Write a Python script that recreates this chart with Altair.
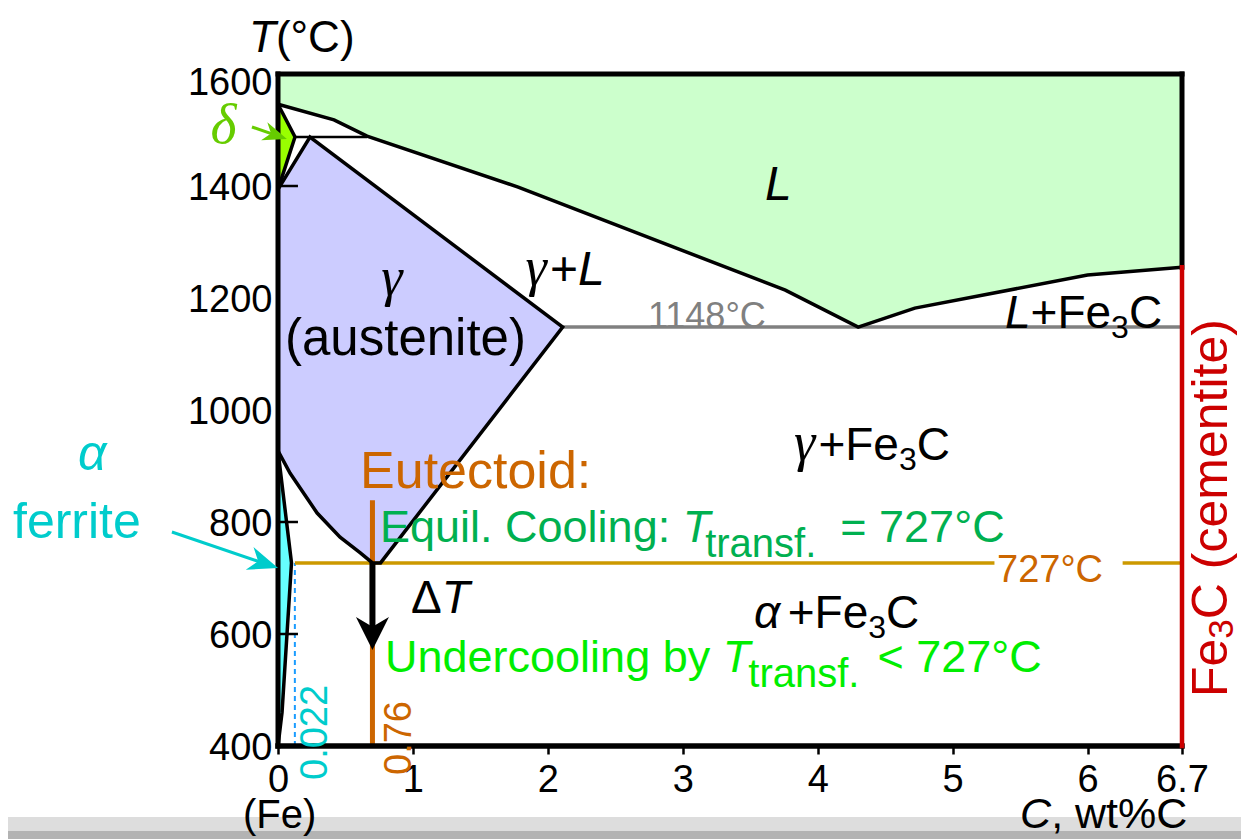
import altair as alt
import pandas as pd

FONT = "Liberation Sans, Arial, Helvetica, sans-serif"
SERIF = "Liberation Serif, Times New Roman, serif"

# ---------------- data ----------------
x_tick_values = [0, 1, 2, 3, 4, 5, 6, 6.7]
y_tick_values = [400, 600, 800, 1000, 1200, 1400, 1600]
y_inner_ticks = [600, 800, 1400]
C_range = [0, 6.7]
T_range = [400, 1600]

# liquidus (boundary of the L field)
liq_C = [0.0, 0.415, 0.66, 1.78, 3.76, 4.30, 4.72, 6.0, 6.7]
liq_T = [1546, 1518, 1489, 1398, 1214, 1148, 1182, 1241, 1255]

# austenite (gamma) field
gam_left_C = [0.70, 0.61, 0.46, 0.29, 0.09, 0.0, 0.0, 0.237]
gam_left_T = [727, 745, 773, 816, 887, 927, 1394, 1487.5]
gam_right_C = [0.76, 2.11, 0.237]
gam_right_T = [727, 1148, 1487.5]

# delta ferrite field
del_C = [0.0, 0.126, 0.0]
del_T = [1394, 1487.5, 1546]

# alpha ferrite field (drawn exaggerated)
alp_C = [0.0, 0.03, 0.10, 0.0]
alp_T = [400, 460, 727, 927]

peritectic_T = 1487.5
peritectic_C = [0.126, 0.66]
eutectic_T = 1148
eutectic_C = [2.11, 6.7]
eutectoid_T = 727
eutectoid_segments = [(0.125, 5.31), (6.26, 6.7)]
eutectoid_C = 0.70          # drawn position of the 0.76 composition line
eutectoid_line_top = 839
alpha_max_C = 0.125         # drawn position of the 0.022 line
cementite_C = 6.7
cementite_top_T = 1255

PXC = 904 / 6.7      # px per wt%
PXT = 672 / 1200     # px per degC

XS = alt.Scale(domain=C_range, nice=False, zero=False)
YS = alt.Scale(domain=T_range, nice=False, zero=False)
XAX = alt.Axis(values=x_tick_values, title=None, domain=False, grid=False,
               labelExpr="datum.value > 6.5 ? '6.7' : format(datum.value, 'd')",
               ticks=True, tickSize=8, tickWidth=2.5, tickColor="black",
               labelFont=FONT, labelFontSize=38, labelColor="black",
               labelPadding=7, labelFlush=False, labelOverlap=False)
YAX = alt.Axis(values=y_tick_values, title=None, domain=False, grid=False, format="d",
               ticks=False, tickSize=0, labelFont=FONT, labelFontSize=38,
               labelColor="black", labelPadding=6, labelFlush=False,
               labelOverlap=False,
               labelOffset={"condition": {"test": "datum.value == 1600", "value": 9}, "value": 2})


def X(f):
    return alt.X(f, type="quantitative", scale=XS, axis=XAX, title=None)


def Y(f):
    return alt.Y(f, type="quantitative", scale=YS, axis=YAX, title=None)


def interp(ts, cs, t):
    for i in range(len(ts) - 1):
        if ts[i] <= t <= ts[i + 1]:
            if ts[i + 1] == ts[i]:
                return cs[i + 1]
            f = (t - ts[i]) / (ts[i + 1] - ts[i])
            return cs[i] + f * (cs[i + 1] - cs[i])
    return cs[-1]


def hband(lt, lc, rt, rc):
    ts = sorted(set(lt) | set(rt))
    return pd.DataFrame({"T": ts,
                         "xl": [interp(lt, lc, t) for t in ts],
                         "xr": [interp(rt, rc, t) for t in ts]})


L_df = pd.DataFrame({"C": liq_C, "T": liq_T, "top": [T_range[1]] * len(liq_C)})
gam_df = hband(gam_left_T, gam_left_C, gam_right_T, gam_right_C)
del_df = hband([del_T[0], del_T[-1]], [0, 0], del_T, del_C)
alp_df = hband([alp_T[0], alp_T[-1]], [0, 0], alp_T, alp_C)

# ---------------- line segments ----------------
rows = []


def add(seg, pts, color, w, target=rows):
    for i, (c, t) in enumerate(pts):
        target.append({"seg": seg, "i": i, "C": c, "T": t, "color": color, "w": w})


add("eut", [(eutectic_C[0], eutectic_T), (eutectic_C[1], eutectic_T)], "#808080", 3.5)
for k, (a, b) in enumerate(eutectoid_segments):
    add(f"e727_{k}", [(a, eutectoid_T), (b, eutectoid_T)], "#cc9900", 3.5)
add("v076", [(eutectoid_C, T_range[0]), (eutectoid_C, eutectoid_line_top)], "#cc6600", 5)
add("liq", list(zip(liq_C, liq_T)), "black", 3.5)
gl = list(zip(gam_left_C, gam_left_T))
gr = list(zip(gam_right_C, gam_right_T))
add("gam", gl[5::-1] + gr + [gl[6]], "black", 3.5)
add("del", list(zip(del_C, del_T)), "black", 3.5)
add("alp", list(zip(alp_C, alp_T)), "black", 3.5)
add("peri", [(peritectic_C[0], peritectic_T), (peritectic_C[1], peritectic_T)], "black", 2.5)
# arrow shafts
add("dT", [(eutectoid_C, eutectoid_T), (eutectoid_C, 612)], "black", 6)
add("dAr", [(-0.193, 1505.4), (-0.018, 1490.9)], "#66cc00", 3)
add("aAr", [(-0.786, 782.1), (-0.105, 726.4)], "#00cccc", 3)
lines_df = pd.DataFrame(rows)

brows = []
add("top", [(0, 1600), (cementite_C, 1600)], "black", 5, brows)
add("left", [(0, 400), (0, 1600)], "black", 5, brows)
add("bottom", [(0, 400), (cementite_C, 400)], "black", 5.5, brows)
add("rightb", [(cementite_C, cementite_top_T), (cementite_C, 1600)], "black", 5, brows)
add("red", [(cementite_C, 400), (cementite_C, cementite_top_T)], "#cc0000", 4.5, brows)
border_df = pd.DataFrame(brows)

dash_df = pd.DataFrame({"C": [alpha_max_C, alpha_max_C], "T": [400, eutectoid_T]})
ticks_df = pd.DataFrame({"T": y_inner_ticks, "x0": [0] * 3, "x1": [0.148] * 3})

heads_df = pd.DataFrame([
    {"C": -0.018, "T": 1490.9, "angle": 18.9, "size": 576, "color": "#66cc00"},
    {"C": -0.105, "T": 726.4, "angle": 18.8, "size": 900, "color": "#00cccc"},
])
headT_df = pd.DataFrame([{"C": eutectoid_C, "T": 601, "size": 1089}])

band_df = pd.DataFrame([
    {"x0": -2.2, "x1": 7.6, "y0": 248.2, "y1": 273.2, "color": "#dddddd"},
    {"x0": -2.2, "x1": 7.6, "y0": 220.0, "y1": 248.2, "color": "#b3b3b3"},
])

# ---------------- text ----------------
W = {' ': .278, '(': .333, ')': .333, '+': .584, ',': .278, '.': .278, ':': .278,
     '<': .584, '=': .584, '%': .889, '°': .4, 'A': .667, 'C': .722, 'E': .667,
     'F': .611, 'L': .556, 'T': .611, 'U': .722, 'a': .556, 'b': .556, 'c': .5,
     'd': .556, 'e': .556, 'f': .278, 'g': .556, 'i': .222, 'l': .222, 'm': .833,
     'n': .556, 'o': .556, 'q': .556, 'r': .333, 's': .5, 't': .278, 'u': .556,
     'w': .722, 'y': .5, 'α': .58, 'γ': .45, 'δ': .5, 'Δ': .668}


def tw(s, size):
    return sum(W.get(ch, .556) for ch in s) * size


trows = []


def run(x0, y0, color, parts, angle=0):
    ax, ay = (1, 0) if angle == 0 else (0, -1)
    dx, dy = (0, 1) if angle == 0 else (1, 0)
    pos = 0.0
    for p in parts:
        text, kind, size = p[0], p[1], p[2]
        drop = p[3] if len(p) > 3 else 0
        gap = p[4] if len(p) > 4 else 0
        adv = p[5] if len(p) > 5 else None
        pos += gap
        sx = pos * ax + drop * dx
        sy = pos * ay + drop * dy
        trows.append({"x": x0 + sx / PXC, "y": y0 - sy / PXT, "text": text,
                      "kind": kind, "size": size, "color": color, "angle": angle})
        pos += adv * size if adv is not None else tw(text, size)


run(-0.215, 1639, "black", [("T", "sansI", 44), ("(°C)", "sans", 44)])
run(-0.50, 1477, "#66cc00", [("δ", "serifI", 56)])
run(3.609, 1375, "black", [("L", "sansI", 48)])
run(1.835, 1223, "black", [("γ", "serifI", 54), ("+", "sans", 48), ("L", "sansI", 48)])
run(0.765, 1205, "black", [("γ", "serifI", 54)])
run(0.052, 1098, "black", [("(austenite)", "sans", 51)])
run(2.742, 1146.5, "#808080", [("1148°C", "sans", 36)])
run(5.388, 1146.5, "black", [("L", "sansI", 46), ("+Fe", "sans", 46),
                              ("3", "sans", 32, 10), ("C", "sans", 46)])
run(3.825, 910.7, "black", [("γ", "serifI", 54), ("+Fe", "sans", 46),
                             ("3", "sans", 32, 10), ("C", "sans", 46)])
run(0.608, 860.7, "#cc6600", [("Eutectoid:", "sans", 52)])
run(0.756, 764.3, "#00b050", [("Equil. Cooling: ", "sans", 45),
                               ("T", "sansI", 45, 0, 0, 0.5),
                               ("transf.", "sans", 40, 15),
                               ("= 727°C", "sans", 45, 0, 24)])
run(0.793, 532.1, "#00ee00", [("Undercooling by ", "sans", 45),
                               ("T", "sansI", 45, 0, 0, 0.57),
                               ("transf.", "sans", 40, 15),
                               ("< 727°C", "sans", 45, 0, 18)])
run(5.329, 692.9, "#cc6600", [("727°C", "sans", 38)])
run(0.986, 637.5, "black", [("Δ", "sans", 46), ("T", "sansI", 46)])
run(3.528, 610.7, "black", [("α", "sansI", 46), ("+Fe", "sans", 46, 0, 7),
                             ("3", "sans", 32, 10), ("C", "sans", 46)])
run(0.363, 339.3, "#00cccc", [("0.022", "sans", 38)], angle=270)
run(0.986, 348.2, "#cc6600", [("0.76", "sans", 38)], angle=270)
run(-1.482, 892.9, "#00cccc", [("α", "sansI", 50)])
run(-1.964, 771.4, "#00cccc", [("ferrite", "sans", 50)])
run(7.035, 487.5, "#cc0000", [("Fe", "sans", 50), ("3", "sans", 35, 6),
                               ("C (cementite)", "sans", 50)], angle=270)
run(-0.259, 253.6, "black", [("(Fe)", "sans", 40)])
run(5.50, 253.6, "black", [("C", "sansI", 43), (", wt%C", "sans", 43)])
text_df = pd.DataFrame(trows)

# ---------------- layers ----------------
band = alt.Chart(band_df).mark_rect().encode(
    x=X("x0"), x2=alt.X2("x1"), y=Y("y0"), y2=alt.Y2("y1"),
    color=alt.Color("color:N", scale=None))

L_area = alt.Chart(L_df).mark_area(orient="vertical", color="#ccffcc", opacity=1).encode(
    x=X("C"), y=Y("T"), y2=alt.Y2("top"))


def harea(df, col):
    return alt.Chart(df).mark_area(orient="horizontal", color=col, opacity=1).encode(
        y=Y("T"), x=X("xr"), x2=alt.X2("xl"))


gam_area = harea(gam_df, "#ccccff")
del_area = harea(del_df, "#99ff00")
alp_area = harea(alp_df, "#66ffff")

dash = alt.Chart(dash_df).mark_line(strokeDash=[5, 4], color="#1a9cff", strokeWidth=2).encode(
    x=X("C"), y=Y("T"))


def seglayer(df, cap):
    return alt.Chart(df).mark_line(strokeCap=cap, strokeJoin="miter").encode(
        x=X("C"), y=Y("T"), detail="seg:N", order="i:Q",
        color=alt.Color("color:N", scale=None),
        strokeWidth=alt.StrokeWidth("w:Q", scale=None))


lines = seglayer(lines_df, "butt")
border = seglayer(border_df, "square")

ticks = alt.Chart(ticks_df).mark_rule(color="black", strokeWidth=2.5).encode(
    x=X("x0"), x2=alt.X2("x1"), y=Y("T"))

heads = alt.Chart(heads_df).mark_point(
    shape="M1,0L-1,-0.8L-0.4,0L-1,0.8Z", filled=True, opacity=1, strokeWidth=0).encode(
    x=X("C"), y=Y("T"), angle=alt.Angle("angle:Q", scale=None),
    size=alt.Size("size:Q", scale=None), color=alt.Color("color:N", scale=None))

headT = alt.Chart(headT_df).mark_point(
    shape="M0,1L-1,-1L0,-0.4L1,-1Z", filled=True, opacity=1, strokeWidth=0,
    color="black").encode(
    x=X("C"), y=Y("T"), size=alt.Size("size:Q", scale=None))

styles = {"sans": (FONT, "normal"), "sansI": (FONT, "italic"), "serifI": (SERIF, "italic")}
text_layers = []
for kind, (font, style) in styles.items():
    sub = text_df[text_df["kind"] == kind]
    text_layers.append(alt.Chart(sub).mark_text(
        align="left", baseline="alphabetic", font=font, fontStyle=style).encode(
        x=X("x"), y=Y("y"), text="text:N",
        color=alt.Color("color:N", scale=None),
        size=alt.Size("size:Q", scale=None),
        angle=alt.Angle("angle:Q", scale=None)))

chart = alt.layer(
    band, L_area, alp_area, del_area, gam_area, dash, lines, ticks, border,
    heads, headT, *text_layers
).properties(
    width=904, height=672,
    padding={"left": 270, "top": 66, "right": 59, "bottom": 93},
    autosize=alt.AutoSizeParams(type="none"),
    background="white",
).configure_view(stroke=None)

chart.save("out.html", embed_options={"renderer": "svg", "actions": False})
